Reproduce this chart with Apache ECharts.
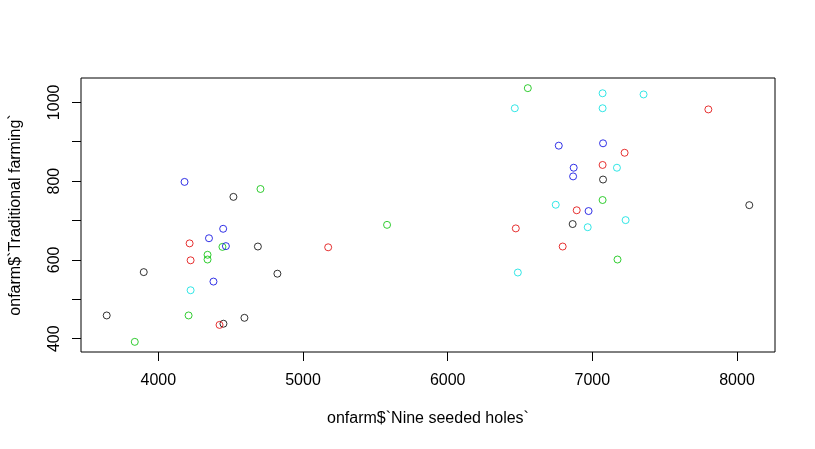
<!DOCTYPE html>
<html>
<head>
<meta charset="utf-8">
<script src="https://cdn.jsdelivr.net/npm/echarts@6/dist/echarts.min.js"></script>
<style>
html,body{margin:0;padding:0;background:#fff;}
#chart{width:815px;height:449px;}
</style>
</head>
<body>
<div id="chart"></div>
<script>
// Nine seeded holes (x) vs Traditional farming (y), five groups
const blackX = [3643, 3899, 4519, 4688, 4823, 4595, 4450, 7074, 8085, 6864];
const blackY = [459, 569, 760, 634, 565, 453, 438, 804, 739, 691];
const redX = [4216, 4223, 4423, 5174, 6471, 6795, 6892, 7071, 7223, 7802];
const redY = [642, 599, 435, 632, 680, 634, 726, 841, 872, 982];
const greenX = [6554, 7071, 7174, 4706, 5581, 4340, 4340, 4443, 4209, 3837];
const greenY = [1036, 752, 601, 780, 689, 613, 601, 633, 459, 392];
const blueX = [4181, 4448, 4350, 4467, 4381, 6768, 7074, 6871, 6867, 6974];
const blueY = [798, 679, 655, 635, 545, 890, 896, 834, 812, 724];
const cyanX = [4223, 7071, 7354, 6464, 7071, 7170, 6747, 7230, 6968, 6485];
const cyanY = [523, 1023, 1020, 985, 985, 834, 740, 701, 683, 568];

const xTicks = [4000, 5000, 6000, 7000, 8000];
const yTicks = [400, 500, 600, 700, 800, 900, 1000];
const yTickLabels = [400, 600, 800, 1000];

const groups = [
  {name: 'black', color: '#000000', x: blackX, y: blackY},
  {name: 'red', color: '#E00000', x: redX, y: redY},
  {name: 'green3', color: '#00C000', x: greenX, y: greenY},
  {name: 'blue', color: '#0000E0', x: blueX, y: blueY},
  {name: 'cyan', color: '#00E0E0', x: cyanX, y: cyanY}
];

const pad = v => ({min: v.min - 0.04 * (v.max - v.min), max: v.max + 0.04 * (v.max - v.min)});
const font = 'Liberation Sans, Arial, sans-serif';

const chart = echarts.init(document.getElementById('chart'), null, {renderer: 'canvas'});
chart.setOption({
  animation: false,
  backgroundColor: '#ffffff',
  grid: {left: 78, right: 40, top: 78, bottom: 97, show: true, borderColor: '#000', borderWidth: 1, backgroundColor: 'transparent'},
  xAxis: {
    type: 'value',
    min: v => pad(v).min,
    max: v => pad(v).max,
    splitLine: {show: false},
    axisLine: {show: false},
    axisTick: {show: true, inside: false, length: 9, lineStyle: {color: '#000', width: 1}, customValues: xTicks},
    axisLabel: {show: true, color: '#000', fontFamily: font, fontSize: 16, margin: 21, customValues: xTicks, formatter: v => String(v)},
    name: 'onfarm$`Nine seeded holes`',
    nameLocation: 'middle',
    nameGap: 59,
    nameTextStyle: {color: '#000', fontFamily: font, fontSize: 16}
  },
  yAxis: {
    type: 'value',
    min: v => pad(v).min,
    max: v => pad(v).max,
    splitLine: {show: false},
    axisLine: {show: false},
    axisTick: {show: true, inside: false, length: 9, lineStyle: {color: '#000', width: 1}, customValues: yTicks},
    axisLabel: {show: true, color: '#000', fontFamily: font, fontSize: 16, margin: 18, rotate: 90, customValues: yTickLabels, formatter: v => String(v)},
    name: 'onfarm$`Traditional farming`',
    nameLocation: 'middle',
    nameGap: 57,
    nameRotate: 90,
    nameTextStyle: {color: '#000', fontFamily: font, fontSize: 16}
  },
  series: groups.map(g => ({
    type: 'scatter',
    name: g.name,
    symbol: 'circle',
    symbolSize: 7,
    silent: true,
    itemStyle: {color: 'rgba(0,0,0,0)', borderColor: g.color, borderWidth: 1},
    emphasis: {disabled: true},
    data: g.x.map((v, i) => [v, g.y[i]])
  }))
});
</script>
</body>
</html>
